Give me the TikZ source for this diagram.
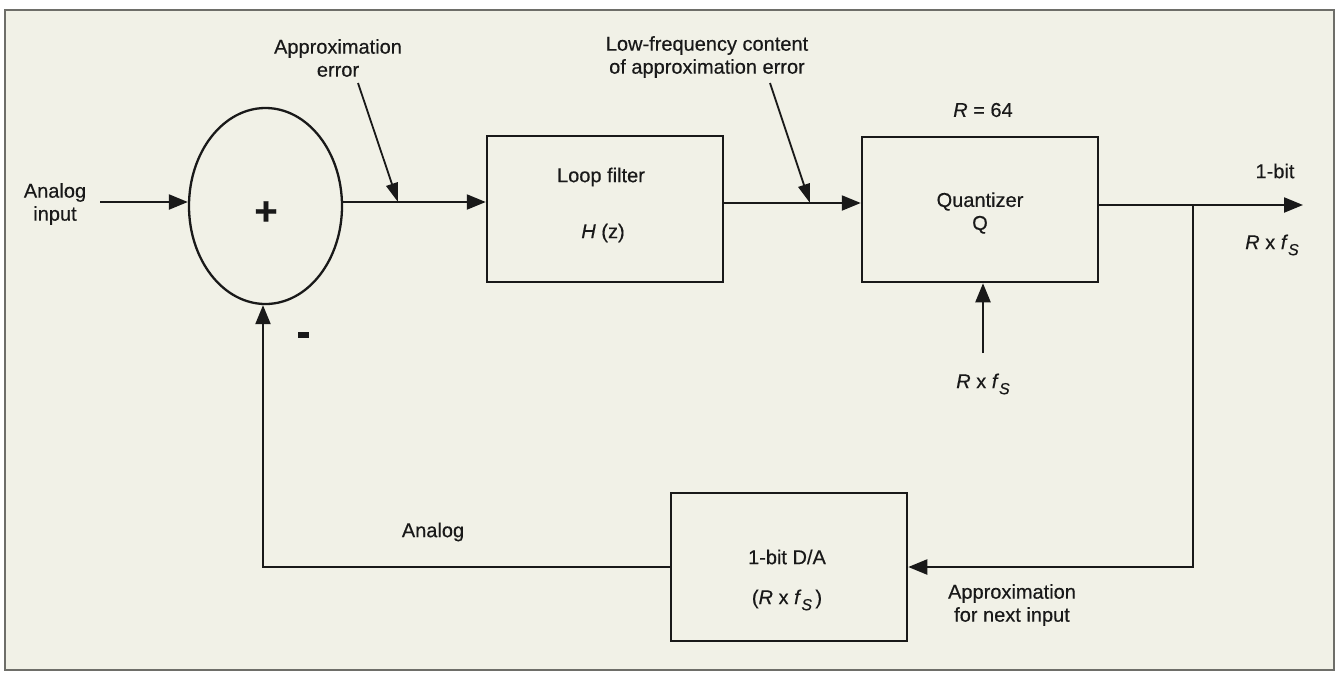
\documentclass[tikz,border=0pt]{standalone}
\usepackage{fontspec}
\setmainfont{Liberation Sans}[FakeBold=0.4]
\usetikzlibrary{arrows.meta,shapes.geometric,calc}
\definecolor{paper}{RGB}{241,241,231}
\definecolor{framegray}{RGB}{110,110,105}
\definecolor{ink}{RGB}{25,25,25}
\tikzset{
  blk/.style={draw=ink,line width=2.5pt,rectangle,inner sep=0pt},
  conn/.style={draw=ink,line width=2.2pt},
  arr/.style={conn,-{Triangle[length=19pt,width=15pt]}},
  thinarr/.style={draw=ink,line width=1.8pt,-{Triangle[length=19pt,width=12pt]}},
  lbl/.style={text=ink,font=\fontsize{20}{23}\selectfont\addfontfeature{FakeBold=0.4},align=center,inner sep=0pt},
}
\newcommand{\Rxf}{\textit{R} x \textit{f}\raisebox{-6pt}{\fontsize{16}{16}\selectfont\textit{S}}}
\begin{document}
\begin{tikzpicture}[x=1pt,y=-1pt]
\useasboundingbox (0,0) rectangle (1341,673);
\fill[white] (0,0) rectangle (1341,673);
\filldraw[fill=paper,draw=framegray,line width=1.5pt] (5,10) rectangle (1334,670);

% blocks
\node[draw=ink,line width=2.3pt,ellipse,minimum width=153pt,minimum height=196pt,inner sep=0pt] (sum) at (265.5,206) {};
\node[text=ink,font=\fontsize{40}{40}\selectfont\bfseries,inner sep=0pt] (plus) at (266,213) {+};
\node[blk,minimum width=236pt,minimum height=146pt] (lf) at (605,209) {};
\node[blk,minimum width=236pt,minimum height=145pt] (qz) at (980,209.5) {};
\node[blk,minimum width=236pt,minimum height=148pt] (da) at (789,567) {};

% coordinates
\coordinate (in) at (100,202);
\coordinate (mid) at (0,203);
\coordinate (outy) at (0,205);
\coordinate (out) at (1303,205);
\coordinate (br) at (1193,205);
\coordinate (fb) at (1193,567);
\coordinate (corner) at (263,567);
\coordinate (clk) at (983,353);
\coordinate (ae1) at (358,83);
\coordinate (ae2) at (398,202);
\coordinate (lfe1) at (770,83);
\coordinate (lfe2) at (810,203);

% connectors
\draw[arr] (in) -- (in -| sum.west);
\draw[arr] (sum.east |- in) -- (lf.west |- in);
\draw[arr] (lf.east |- mid) -- (qz.west |- mid);
\draw[arr] (qz.east |- outy) -- (out);
\draw[arr] (br) -- (fb) -- (da.east |- fb);
\draw[arr] (da.west |- corner) -- (corner) -- (corner |- sum.south);
\draw[arr] (clk) -- (clk |- qz.south);
\draw[thinarr] (ae1) -- (ae2);
\draw[thinarr] (lfe1) -- (lfe2);

% labels
\node[lbl] (l-in) at (55,204) {Analog\\input};
\node[lbl] (l-ae) at (338,58) {Approximation\\error};
\node[lbl] (l-lf1) at (601,177) {Loop filter};
\node[lbl] (l-lf2) at (603,233) {\textit{H} (z)};
\node[lbl] (l-lfe) at (707,57) {Low-frequency content\\of approximation error};
\node[lbl] (l-r) at (983,110) {\textit{R} = 64};
\node[lbl] (l-q) at (980,213) {Quantizer\\Q};
\node[lbl] (l-1bit) at (1275,171) {1-bit};
\node[lbl] (l-rate) at (1272,245) {\Rxf};
\node[lbl] (l-clk) at (983,384) {\Rxf};
\node[fill=ink,minimum width=11pt,minimum height=6pt,inner sep=0pt] (minus) at (303,335) {};
\node[lbl] (l-an) at (433,532) {Analog};
\node[lbl] (l-da1) at (787,557) {1-bit D/A};
\node[lbl] (l-da2) at (787,600) {(\Rxf\,)};
\node[lbl] (l-next) at (1012,605) {Approximation\\for next input};
\end{tikzpicture}
\end{document}
